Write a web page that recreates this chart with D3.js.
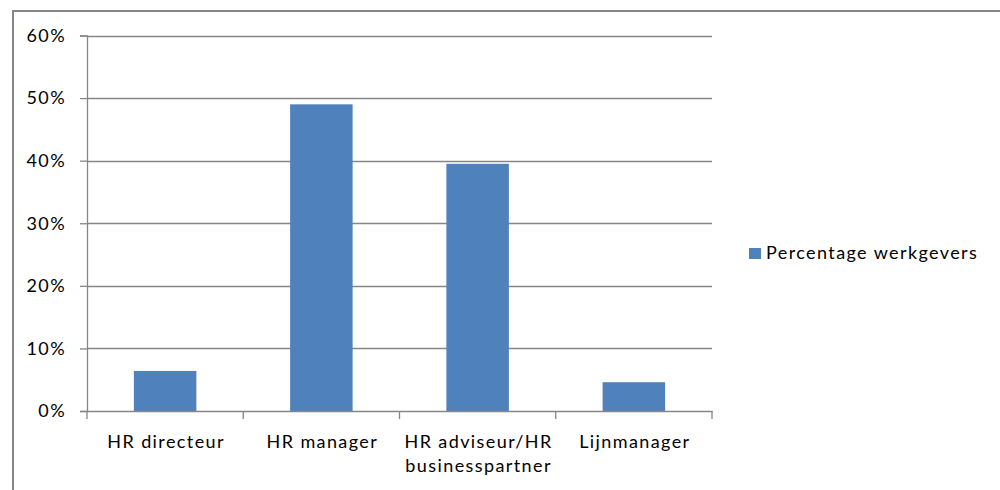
<!DOCTYPE html>
<html>
<head>
<meta charset="utf-8">
<script src="https://cdn.jsdelivr.net/npm/d3@7"></script>
<style>
  body { margin: 0; background: #fff; }
  text { font-family: Lato, "Liberation Sans", sans-serif; fill: #000; letter-spacing: 1.4px; }
</style>
</head>
<body>
<div id="chart"></div>
<script>
// data
const categories = ["HR directeur", "HR manager", "HR adviseur/HR businesspartner", "Lijnmanager"];
const labelLines = [["HR directeur"], ["HR manager"], ["HR adviseur/HR", "businesspartner"], ["Lijnmanager"]];
const values = [0.064, 0.49, 0.395, 0.046];
const yTicks = [0, 0.1, 0.2, 0.3, 0.4, 0.5, 0.6];
const seriesName = "Percentage werkgevers";

const width = 1000, height = 490;
const plot = { left: 87, right: 712, top: 35.5, bottom: 411 };
const grey = "#868686";

const svg = d3.select("#chart").append("svg")
  .attr("width", width)
  .attr("height", height);

// outer frame, runs off the right and bottom edges
svg.append("rect")
  .attr("x", 13).attr("y", 11)
  .attr("width", 1100).attr("height", 600)
  .attr("fill", "none")
  .attr("stroke", grey)
  .attr("stroke-width", 2);

const x = d3.scaleBand()
  .domain(categories)
  .range([plot.left, plot.right])
  .paddingInner(0.6)
  .paddingOuter(0.3);

const xOuter = d3.scaleBand()
  .domain(categories)
  .range([plot.left, plot.right]);

const y = d3.scaleLinear()
  .domain([0, 0.6])
  .range([plot.bottom, plot.top]);

// gridlines
svg.append("g")
  .selectAll("line")
  .data(yTicks.filter(d => d > 0))
  .join("line")
  .attr("x1", plot.left).attr("x2", plot.right)
  .attr("y1", d => Math.round(y(d)) + 0.5)
  .attr("y2", d => Math.round(y(d)) + 0.5)
  .attr("stroke", grey)
  .attr("stroke-width", 1.3);

// bars
svg.append("g")
  .selectAll("rect")
  .data(values)
  .join("rect")
  .attr("x", (d, i) => x(categories[i]))
  .attr("width", x.bandwidth())
  .attr("y", d => y(d))
  .attr("height", d => y(0) - y(d))
  .attr("fill", "#4F81BD");

// y axis
const yAxis = svg.append("g")
  .attr("transform", `translate(${plot.left},0)`)
  .call(d3.axisLeft(y).tickValues(yTicks).tickFormat(d3.format(".0%")).tickSize(7).tickPadding(14));
yAxis.select(".domain").attr("stroke", grey).attr("stroke-width", 1.3);
yAxis.selectAll(".tick line").attr("stroke", grey).attr("stroke-width", 1.3);
yAxis.selectAll(".tick text")
  .attr("font-size", 18)
  .attr("font-family", "Lato, sans-serif")
  .attr("fill", "#000");

// x axis
const xAxis = svg.append("g")
  .attr("transform", `translate(0,${plot.bottom})`)
  .call(d3.axisBottom(xOuter).tickSize(0).tickFormat(""));
xAxis.select(".domain").attr("stroke", grey).attr("stroke-width", 1.3);
xAxis.selectAll(".tick").remove();

// category separators
const seps = categories.map(c => xOuter(c)).concat([plot.right]);
svg.append("g")
  .selectAll("line")
  .data(seps)
  .join("line")
  .attr("x1", d => d).attr("x2", d => d)
  .attr("y1", plot.bottom).attr("y2", plot.bottom + 8)
  .attr("stroke", grey)
  .attr("stroke-width", 1.3);

// category labels
const labels = svg.append("g")
  .selectAll("text")
  .data(categories)
  .join("text")
  .attr("x", d => xOuter(d) + xOuter.bandwidth() / 2 + 1)
  .attr("y", plot.bottom + 37)
  .attr("text-anchor", "middle")
  .attr("font-size", 18);
labels.selectAll("tspan")
  .data((d, i) => labelLines[i])
  .join("tspan")
  .attr("x", function() { return this.parentNode.getAttribute("x"); })
  .attr("dy", (d, i) => i === 0 ? 0 : 24)
  .text(d => d);

// legend
const legend = svg.append("g").attr("transform", "translate(749,248)");
legend.append("rect")
  .attr("width", 12).attr("height", 11)
  .attr("fill", "#4F81BD");
legend.append("text")
  .attr("x", 17).attr("y", 10.5)
  .attr("font-size", 18)
  .text(seriesName);
</script>
</body>
</html>
